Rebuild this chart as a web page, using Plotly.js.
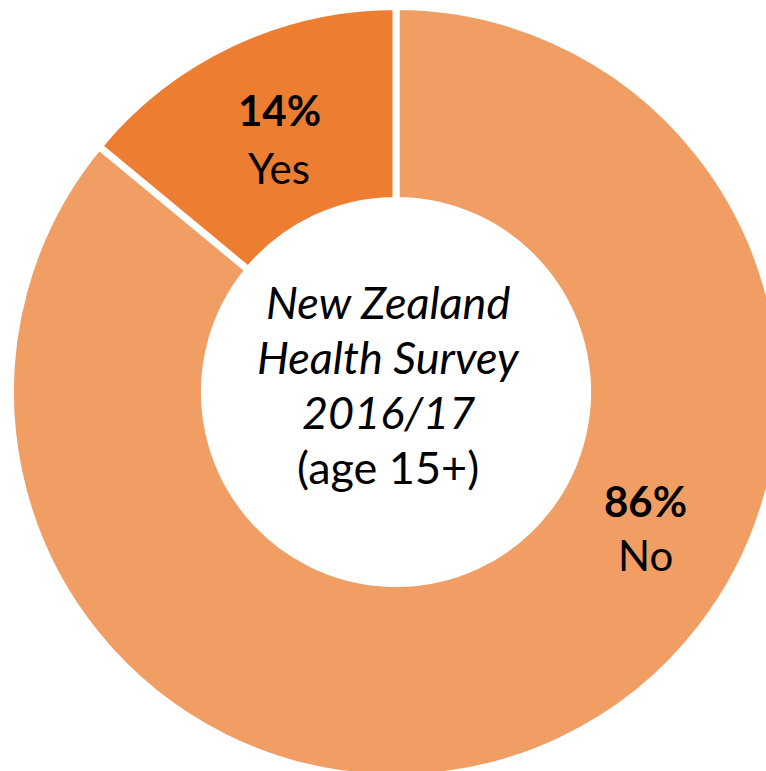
<!DOCTYPE html>
<html>
<head>
<meta charset="utf-8">
<script src="https://cdn.plot.ly/plotly-3.0.1.min.js"></script>
<style>
  html, body { margin: 0; padding: 0; overflow: hidden; background: #ffffff; }
  #chart { width: 800px; height: 800px; }
</style>
</head>
<body>
<div id="chart"></div>
<script>
// Survey responses (percent of adults)
const categories = ['No', 'Yes'];
const shares = [86, 14];
const sliceColors = ['#F09E64', '#ED7D31'];
const centerLines = ['<i>New Zealand</i>', '<i>Health Survey</i>', '<i>2016/17</i>', '(age 15+)'];

const W = 800, H = 800;
const FONT = 'Lato, "Open Sans", sans-serif';
const px = x => x / W;
const py = y => 1 - y / H;

const total = shares.reduce((a, b) => a + b, 0);
const pct = shares.map(v => Math.round(v / total * 100) + '%');

const trace = {
  type: 'pie',
  labels: categories,
  values: shares,
  sort: false,
  direction: 'clockwise',
  rotation: 0,
  hole: 0.497,
  textinfo: 'none',
  hoverinfo: 'none',
  showlegend: false,
  marker: { colors: sliceColors, line: { color: '#ffffff', width: 7 } },
  domain: { x: [10.5 / W, 781.5 / W], y: [1 - 777.5 / H, 1 - 6.5 / H] }
};

// label anchor points (page pixels) for each slice: [percent line, name line]
const labelPos = [
  { x: 645, yPct: 501, yName: 555 },
  { x: 279, yPct: 110, yName: 168 }
];

const annotations = [];
categories.forEach((c, i) => {
  const p = labelPos[i];
  annotations.push({ text: '<b>' + pct[i] + '</b>', x: px(p.x), y: py(p.yPct), size: 42 });
  annotations.push({ text: c, x: px(p.x), y: py(p.yName), size: 42 });
});

const centerY = [302, 357, 412, 467];
centerLines.forEach((t, i) => {
  annotations.push({ text: t, x: px(388), y: py(centerY[i]), size: 45 });
});

annotations.forEach(a => {
  a.xref = 'paper'; a.yref = 'paper';
  a.xanchor = 'center'; a.yanchor = 'middle';
  a.showarrow = false;
  a.font = { family: FONT, size: a.size, color: '#000000' };
  delete a.size;
});

const layout = {
  width: W, height: H,
  margin: { l: 0, r: 0, t: 0, b: 0 },
  paper_bgcolor: '#ffffff',
  annotations: annotations
};

Plotly.newPlot('chart', [trace], layout, { displayModeBar: false, staticPlot: true });
</script>
</body>
</html>
